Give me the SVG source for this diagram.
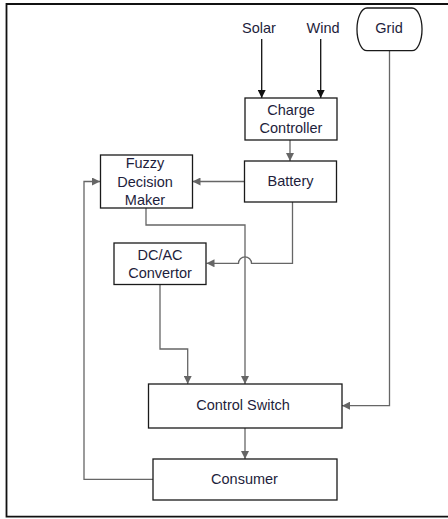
<svg xmlns="http://www.w3.org/2000/svg" width="448" height="519" viewBox="0 0 448 519">
<style>
.box{fill:#fff;stroke:#1a1a1a;stroke-width:1.3}
.t{font-family:"Liberation Sans",Arial,sans-serif;font-size:14.5px;fill:#1e1e3c;text-anchor:middle;dominant-baseline:central}
.c{fill:none;stroke:#666;stroke-width:1.3}
.k{fill:none;stroke:#111;stroke-width:1.3}
</style>
<defs>
<marker id="ag" viewBox="0 0 10 10" refX="10" refY="5" markerWidth="8" markerHeight="8" markerUnits="userSpaceOnUse" orient="auto"><path d="M0,0 L10,5 L0,10 Z" fill="#666"/></marker>
<marker id="ak" viewBox="0 0 10 10" refX="10" refY="5" markerWidth="8" markerHeight="8" markerUnits="userSpaceOnUse" orient="auto"><path d="M0,0 L10,5 L0,10 Z" fill="#111"/></marker>
</defs>
<rect width="448" height="519" fill="#fff"/>
<path d="M460,4 H6.5 V516.7 H460" fill="none" stroke="#111" stroke-width="1.8"/>
<g id="connectors">
<path class="k" d="M261.7,39 V98" marker-end="url(#ak)"/>
<path class="k" d="M320.7,39 V98" marker-end="url(#ak)"/>
<path class="c" d="M290,140 V161" marker-end="url(#ag)"/>
<path class="c" d="M244,181.5 H192.5" marker-end="url(#ag)"/>
<path class="c" d="M146,208 V225 H245 V384" marker-end="url(#ag)"/>
<path class="c" d="M292.5,202 V263.3 H251.5 A6.5,6.5 0 0 0 238.5,263.3 H206.5" marker-end="url(#ag)"/>
<path class="c" d="M160,284.5 V349 H187.7 V384" marker-end="url(#ag)"/>
<path class="c" d="M389.5,51 V405.7 H342" marker-end="url(#ag)"/>
<path class="c" d="M245,428 V459" marker-end="url(#ag)"/>
<path class="c" d="M153,479.3 H84 V181.5 H100" marker-end="url(#ag)"/>
</g>
<g id="solar"><text class="t" x="259" y="28">Solar</text></g>
<g id="wind"><text class="t" x="323" y="28">Wind</text></g>
<g id="grid"><path class="box" d="M367,8 H412 A10,21.3 0 0 1 412,50.7 H367 A10,21.3 0 0 1 367,8 Z"/><text class="t" x="389" y="28">Grid</text></g>
<g id="charge-controller"><rect class="box" x="245" y="98" width="92" height="42"/><text class="t" x="291" y="110">Charge</text><text class="t" x="291" y="128">Controller</text></g>
<g id="battery"><rect class="box" x="244.5" y="161" width="92" height="41"/><text class="t" x="290.5" y="180.5">Battery</text></g>
<g id="fuzzy"><rect class="box" x="100.5" y="155" width="92" height="53"/><text class="t" x="145" y="163">Fuzzy</text><text class="t" x="145" y="181.5">Decision</text><text class="t" x="145" y="199.5">Maker</text></g>
<g id="dcac"><rect class="box" x="114" y="243" width="92" height="41.5"/><text class="t" x="160" y="255">DC/AC</text><text class="t" x="160" y="273">Convertor</text></g>
<g id="control-switch"><rect class="box" x="148.5" y="384" width="193.5" height="44"/><text class="t" x="243" y="405">Control Switch</text></g>
<g id="consumer"><rect class="box" x="153" y="459" width="184" height="41"/><text class="t" x="244.5" y="479">Consumer</text></g>
</svg>
